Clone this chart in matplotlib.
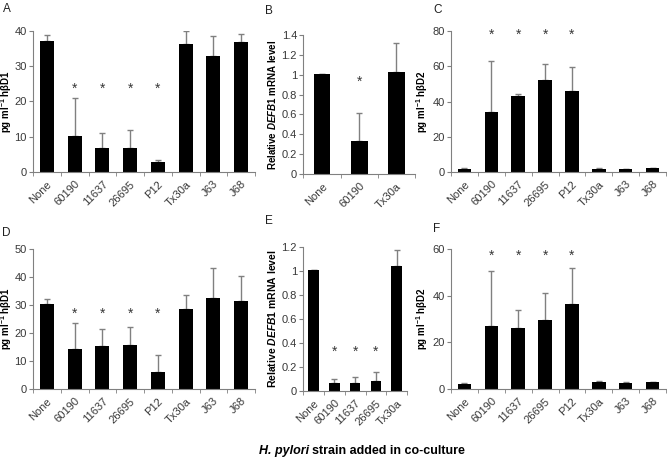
import matplotlib
matplotlib.use("Agg")
import matplotlib.pyplot as plt
import numpy as np

plt.rcParams['font.family'] = ['Liberation Sans', 'DejaVu Sans']
plt.rcParams['mathtext.fontset'] = 'custom'
plt.rcParams['mathtext.rm'] = 'Liberation Sans:bold'
plt.rcParams['mathtext.it'] = 'Liberation Sans:italic:bold'
plt.rcParams['mathtext.bf'] = 'Liberation Sans:bold'

strains8 = ['None', '60190', '11637', '26695', 'P12', 'Tx30a', 'J63', 'J68']
strains3 = ['None', '60190', 'Tx30a']
strains5 = ['None', '60190', '11637', '26695', 'Tx30a']

# panel A: hBD1 protein
a_mean = [37.0, 10.3, 6.7, 6.9, 2.9, 36.2, 32.7, 36.9]
a_err = [1.9, 10.7, 4.3, 4.9, 0.4, 3.7, 5.8, 2.2]
a_star = [1, 2, 3, 4]
# panel B: DEFB1 mRNA
b_mean = [1.01, 0.33, 1.03]
b_err = [0.0, 0.28, 0.29]
b_star = [1]
# panel C: hBD2 protein
c_mean = [1.5, 34.0, 43.0, 52.3, 46.2, 1.8, 1.6, 2.0]
c_err = [0.8, 29.0, 1.2, 8.8, 13.4, 0.3, 0.2, 0.2]
c_star = [1, 2, 3, 4]
# panel D
d_mean = [30.5, 14.3, 15.3, 15.8, 6.0, 28.6, 32.5, 31.3]
d_err = [1.6, 9.3, 6.2, 6.4, 6.2, 4.9, 10.8, 9.0]
d_star = [1, 2, 3, 4]
# panel E
e_mean = [1.01, 0.065, 0.07, 0.085, 1.04]
e_err = [0.0, 0.035, 0.045, 0.07, 0.14]
e_star = [1, 2, 3]
# panel F
f_mean = [2.2, 27.2, 26.3, 29.5, 36.3, 3.0, 2.7, 2.9]
f_err = [0.3, 23.5, 7.5, 11.7, 15.6, 0.4, 0.2, 0.1]
f_star = [1, 2, 3, 4]

W, H = 667, 458
fig = plt.figure(figsize=(W / 100, H / 100), dpi=100)

grey = '#808080'
txt = '#383838'
lab1 = 'pg ml$^{-1}$ hβD1'
lab2 = 'pg ml$^{-1}$ hβD2'
labm = 'Relative $\\mathit{DEFB1}$ mRNA level'


def panel(box, names, mean, err, star, star_y, ymax, ystep, ylabel, lab_x, lab_fs,
          letter, lpos, width=0.5, fmt=None):
    x0, x1, yt, yb = box
    ax = fig.add_axes([x0 / W, 1 - yb / H, (x1 - x0) / W, (yb - yt) / H])
    x = np.arange(len(names))
    ax.bar(x, mean, width=width, color='black', zorder=2)
    ax.errorbar(x, mean, yerr=[np.zeros(len(err)), err], fmt='none',
                ecolor=grey, elinewidth=1, capsize=2.5, capthick=1, zorder=1)
    for i in star:
        ax.text(i, star_y, '*', ha='center', va='center', fontsize=10, color=txt)
    ax.set_xlim(-0.5, len(names) - 0.5)
    ax.set_ylim(0, ymax)
    ticks = np.arange(0, ymax + ystep / 2, ystep)
    ax.set_yticks(ticks)
    if fmt:
        ax.set_yticklabels([fmt(t) for t in ticks])
    ax.set_xticks(x)
    ax.set_xticklabels(names, rotation=45, ha='right', rotation_mode='anchor')
    ax.set_xticks(np.arange(len(names) + 1) - 0.5, minor=True)
    ax.tick_params(axis='x', which='major', length=0, pad=5, labelsize=8, labelcolor=txt)
    ax.tick_params(axis='x', which='minor', length=3, color=grey, direction='out')
    ax.tick_params(axis='y', length=3, color=grey, labelsize=8, labelcolor=txt, pad=1.5)
    for s in ['top', 'right']:
        ax.spines[s].set_visible(False)
    for s in ['left', 'bottom']:
        ax.spines[s].set_color(grey)
    ax.set_ylabel(ylabel, fontsize=lab_fs, fontweight='bold', va='center')
    ax.yaxis.set_label_coords((lab_x - x0) / (x1 - x0), 0.5)
    fig.text(lpos[0] / W, 1 - lpos[1] / H, letter, fontsize=8.5, color='#202020',
             ha='left', va='top')
    return ax


def fmt_m(t):
    t = round(t, 1)
    return '%d' % t if t == int(t) else '%g' % t


panel((33, 255, 30.7, 172), strains8, a_mean, a_err, a_star, 23.5, 40, 10, lab1, 6.5, 7,
      'A', (3, 3))
panel((303.3, 415, 35, 174), strains3, b_mean, b_err, b_star, 0.93, 1.4, 0.2, labm, 272, 7,
      'B', (265, 5), width=0.45, fmt=fmt_m)
panel((451, 666, 31, 172), strains8, c_mean, c_err, c_star, 78, 80, 20, lab2, 422, 7,
      'C', (433, 4))
panel((33, 255, 249, 389), strains8, d_mean, d_err, d_star, 27, 50, 10, lab1, 6.5, 7,
      'D', (2, 227))
panel((303.3, 407, 247.3, 391), strains5, e_mean, e_err, e_star, 0.33, 1.2, 0.2, labm, 272, 7.5,
      'E', (265, 215), width=0.5, fmt=fmt_m)
panel((451, 666, 249, 389), strains8, f_mean, f_err, f_star, 57, 60, 20, lab2, 422, 7,
      'F', (433, 223))

fig.text(309 / W, 1 - 451 / H, 'H. pylori', fontsize=9, fontweight='bold', fontstyle='italic',
         ha='right', va='center')
fig.text(312 / W, 1 - 451 / H, 'strain added in co-culture', fontsize=9, fontweight='bold',
         ha='left', va='center')

fig.savefig('out.png', dpi=100, facecolor='white')
